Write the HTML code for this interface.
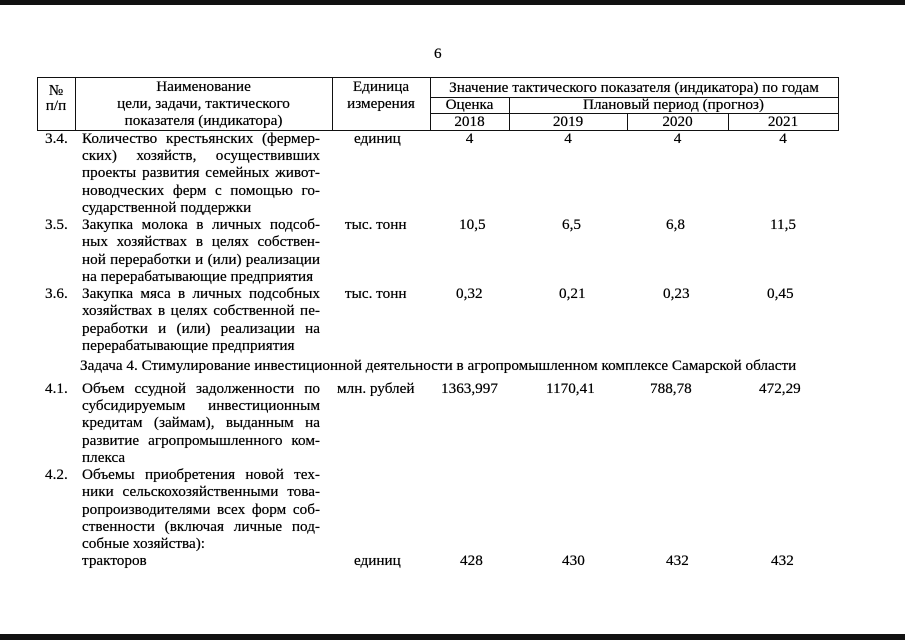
<!DOCTYPE html>
<html><head><meta charset="utf-8"><style>
html,body{margin:0;padding:0;background:#fff;}
body{width:905px;height:640px;position:relative;overflow:hidden;font-family:"Liberation Serif",serif;font-size:15.2px;color:#000;text-shadow:0 0 0.4px #000;}
div{position:absolute;line-height:17px;white-space:nowrap;}
.j{left:82px;width:238px;text-align:justify;text-align-last:justify;white-space:normal;}
.l{left:82px;}
.n{left:45px;}
.c{text-align:center;}
.h{background:#111;}
</style></head><body>
<div class="h" style="left:0;top:0;width:905px;height:5px;"></div>
<div class="h" style="left:0;top:634px;width:905px;height:6px;"></div>

<div style="left:434px;top:45px;">6</div>

<div class="h" style="left:37px;top:77px;width:802px;height:1px;"></div>
<div class="h" style="left:430px;top:97px;width:409px;height:1px;"></div>
<div class="h" style="left:430px;top:113px;width:409px;height:1px;"></div>
<div class="h" style="left:37px;top:130px;width:802px;height:1px;"></div>
<div class="h" style="left:37px;top:77px;width:1px;height:54px;"></div>
<div class="h" style="left:75px;top:77px;width:1px;height:54px;"></div>
<div class="h" style="left:332px;top:77px;width:1px;height:54px;"></div>
<div class="h" style="left:430px;top:77px;width:1px;height:54px;"></div>
<div class="h" style="left:509px;top:97px;width:1px;height:34px;"></div>
<div class="h" style="left:627px;top:113px;width:1px;height:18px;"></div>
<div class="h" style="left:728px;top:113px;width:1px;height:18px;"></div>
<div class="h" style="left:838px;top:77px;width:1px;height:54px;"></div>

<div class="c" style="left:37px;width:38px;top:82px;">№</div>
<div class="c" style="left:37px;width:38px;top:97px;">п/п</div>
<div class="c" style="left:75px;width:257px;top:78px;">Наименование</div>
<div class="c" style="left:75px;width:257px;top:95px;">цели, задачи, тактического</div>
<div class="c" style="left:75px;width:257px;top:112px;">показателя (индикатора)</div>
<div class="c" style="left:332px;width:98px;top:78px;">Единица</div>
<div class="c" style="left:332px;width:98px;top:95px;">измерения</div>
<div class="c" style="left:430px;width:408px;top:79px;">Значение тактического показателя (индикатора) по годам</div>
<div class="c" style="left:430px;width:79px;top:96px;">Оценка</div>
<div class="c" style="left:509px;width:329px;top:96px;">Плановый период (прогноз)</div>
<div class="c" style="left:430px;width:79px;top:113px;">2018</div>
<div class="c" style="left:509px;width:118px;top:113px;">2019</div>
<div class="c" style="left:627px;width:101px;top:113px;">2020</div>
<div class="c" style="left:728px;width:110px;top:113px;">2021</div>

<div class="n" style="top:130px;">3.4.</div>
<div class="j" style="top:130px;">Количество крестьянских (фермер-</div>
<div class="j" style="top:147px;">ских) хозяйств, осуществивших</div>
<div class="j" style="top:164px;">проекты развития семейных живот-</div>
<div class="j" style="top:182px;">новодческих ферм с помощью го-</div>
<div class="l" style="top:199px;">сударственной поддержки</div>
<div style="left:354px;top:130px;">единиц</div>
<div class="c" style="left:430px;width:79px;top:130px;">4</div>
<div class="c" style="left:509px;width:118px;top:130px;">4</div>
<div class="c" style="left:627px;width:101px;top:130px;">4</div>
<div class="c" style="left:728px;width:110px;top:130px;">4</div>

<div class="n" style="top:216px;">3.5.</div>
<div class="j" style="top:216px;">Закупка молока в личных подсоб-</div>
<div class="j" style="top:233px;">ных хозяйствах в целях собствен-</div>
<div class="j" style="top:251px;">ной переработки и (или) реализации</div>
<div class="l" style="top:268px;">на перерабатывающие предприятия</div>
<div style="left:345px;top:216px;">тыс. тонн</div>
<div style="left:459px;top:216px;">10,5</div>
<div style="left:562px;top:216px;">6,5</div>
<div style="left:666px;top:216px;">6,8</div>
<div style="left:770px;top:216px;">11,5</div>

<div class="n" style="top:285px;">3.6.</div>
<div class="j" style="top:285px;">Закупка мяса в личных подсобных</div>
<div class="j" style="top:302px;">хозяйствах в целях собственной пе-</div>
<div class="j" style="top:320px;">реработки и (или) реализации на</div>
<div class="l" style="top:337px;">перерабатывающие предприятия</div>
<div style="left:345px;top:285px;">тыс. тонн</div>
<div style="left:456px;top:285px;">0,32</div>
<div style="left:559px;top:285px;">0,21</div>
<div style="left:663px;top:285px;">0,23</div>
<div style="left:767px;top:285px;">0,45</div>

<div style="left:80px;top:357px;">Задача 4. Стимулирование инвестиционной деятельности в агропромышленном комплексе Самарской области</div>

<div class="n" style="top:380px;">4.1.</div>
<div class="j" style="top:380px;">Объем ссудной задолженности по</div>
<div class="j" style="top:397px;">субсидируемым инвестиционным</div>
<div class="j" style="top:414px;">кредитам (займам), выданным на</div>
<div class="j" style="top:432px;">развитие агропромышленного ком-</div>
<div class="l" style="top:449px;">плекса</div>
<div style="left:337px;top:380px;">млн. рублей</div>
<div style="left:441px;top:380px;">1363,997</div>
<div style="left:546px;top:380px;">1170,41</div>
<div style="left:650px;top:380px;">788,78</div>
<div style="left:759px;top:380px;">472,29</div>

<div class="n" style="top:466px;">4.2.</div>
<div class="j" style="top:466px;">Объемы приобретения новой тех-</div>
<div class="j" style="top:483px;">ники сельскохозяйственными това-</div>
<div class="j" style="top:501px;">ропроизводителями всех форм соб-</div>
<div class="j" style="top:518px;">ственности (включая личные под-</div>
<div class="l" style="top:535px;">собные хозяйства):</div>
<div class="l" style="top:552px;">тракторов</div>
<div style="left:354px;top:552px;">единиц</div>
<div style="left:460px;top:552px;">428</div>
<div style="left:562px;top:552px;">430</div>
<div style="left:666px;top:552px;">432</div>
<div style="left:771px;top:552px;">432</div>
</body></html>
